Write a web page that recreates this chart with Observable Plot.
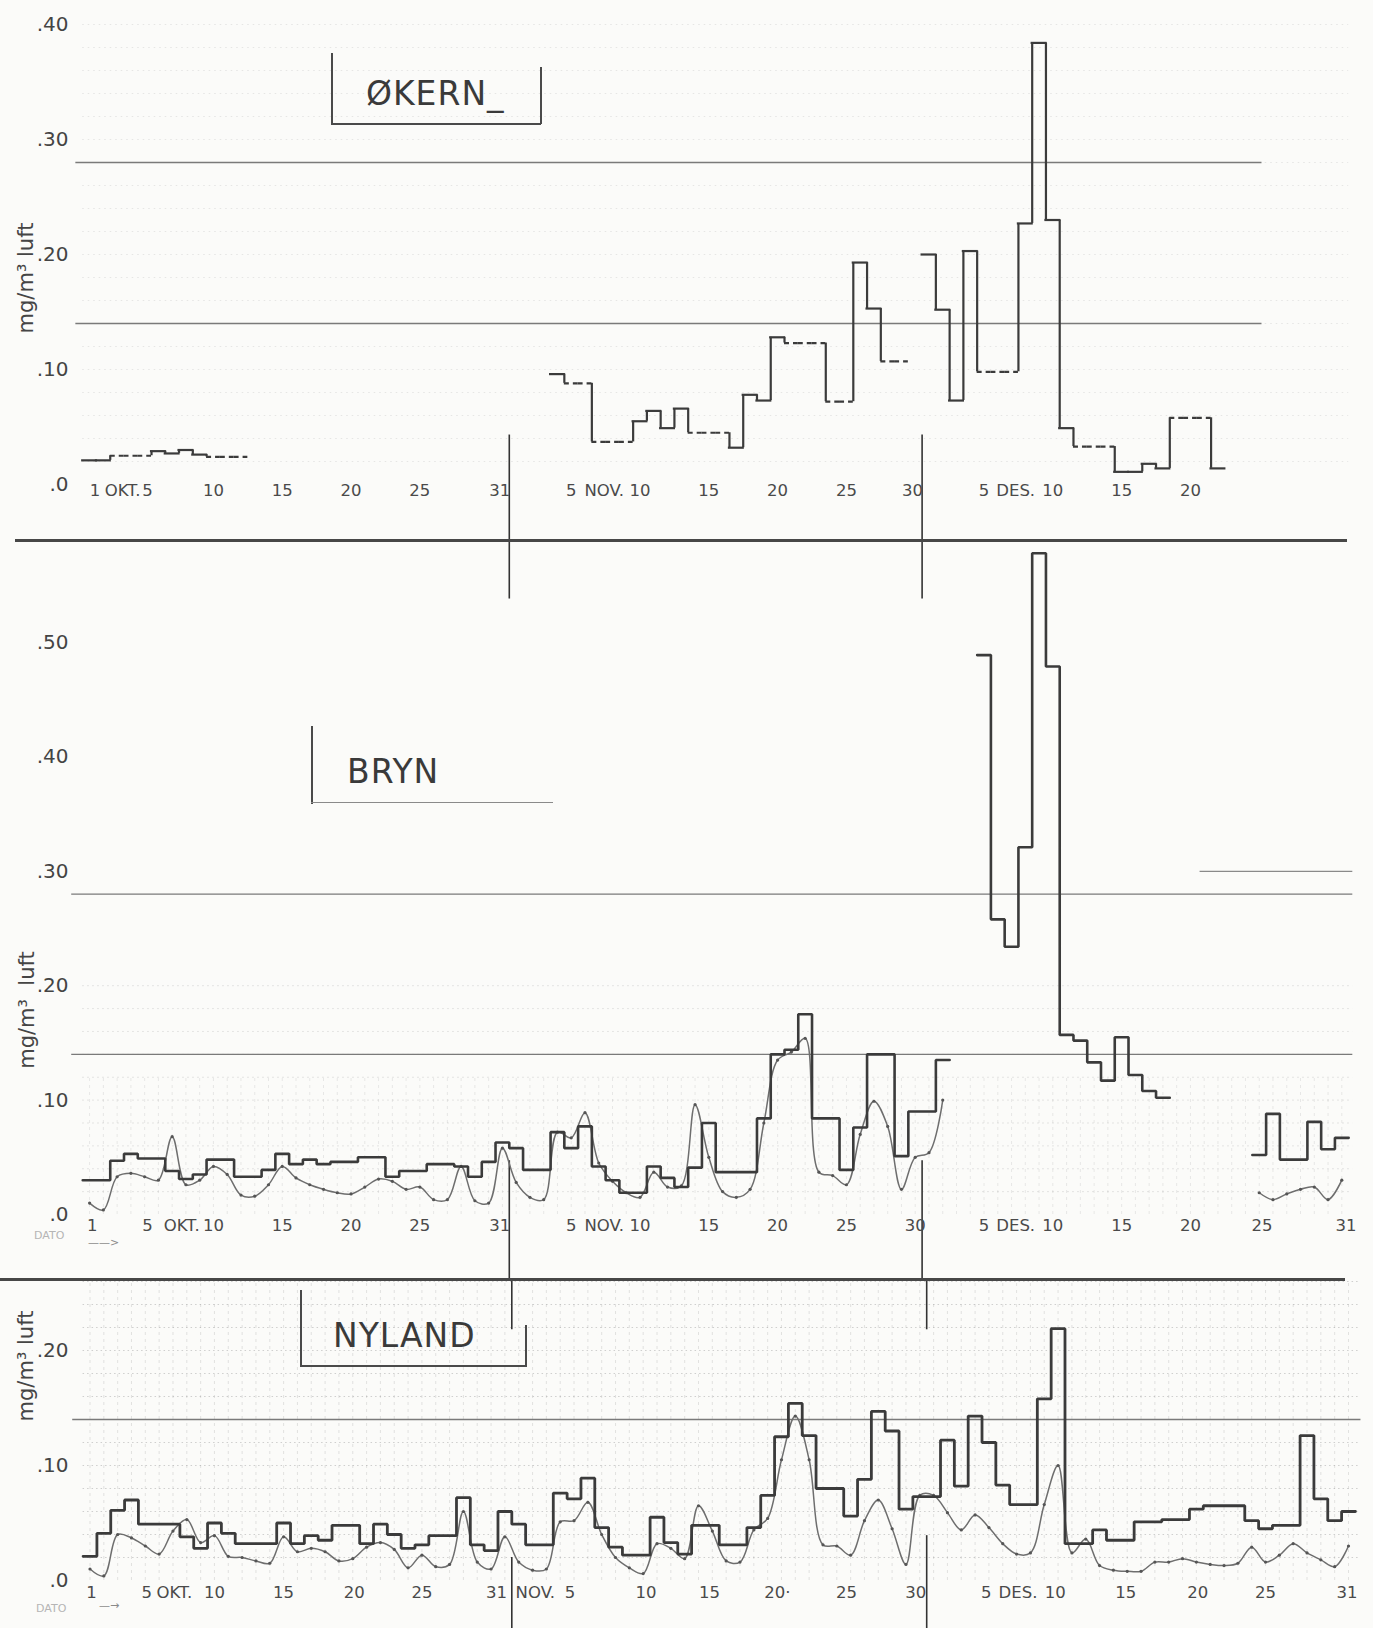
<!DOCTYPE html>
<html>
<head>
<meta charset="utf-8">
<script src="https://cdn.jsdelivr.net/npm/d3@7"></script>
<script src="https://cdn.jsdelivr.net/npm/@observablehq/plot@0.6"></script>
<style>
  html, body { margin: 0; padding: 0; background: #fbfbf9; }
  #page { position: relative; width: 1373px; height: 1628px; overflow: hidden; background: #fbfbf9;
          font-family: "DejaVu Sans", sans-serif; color: #3c3c3c; }
  .panel { position: absolute; left: 0; }
  .panel svg { display: block; }
  .sep { position: absolute; height: 3px; background: #474747; z-index: 5; }
  .ln { position: absolute; background: #4a4a4a; z-index: 4; }
  .ytitle { position: absolute; transform: translate(-50%, -50%) rotate(-90deg); white-space: nowrap;
            font-size: 21px; line-height: 21px; color: #454545; z-index: 4; }
  .station { position: absolute; font-size: 33px; line-height: 33px; letter-spacing: 1px; color: #3a3a3a; z-index: 4; }
  .faint { position: absolute; color: #b5b5b5; font-size: 11px; line-height: 11px; z-index: 4; white-space: nowrap; }
</style>
</head>
<body>
<div id="page"></div>
<script>
// ---------------- DATA (days 1..92 = 1 Oct .. 31 Dec) ----------------
const days = d3.range(1, 93);

// ØKERN daily values, mg/m3 (null = no measurement)
const okernValues = [
  0.021, 0.021, 0.025, 0.025, 0.025, 0.029, 0.027, 0.030, 0.026, 0.024,   // 1-10
  0.024, 0.024, null, null, null, null, null, null, null, null,           // 11-20
  null, null, null, null, null, null, null, null, null, null,             // 21-30
  null, null, null, null, 0.096, 0.088, 0.088, 0.037, 0.037, 0.037,       // 31-40
  0.055, 0.064, 0.049, 0.066, 0.045, 0.045, 0.045, 0.032, 0.078, 0.073,   // 41-50
  0.128, 0.123, 0.123, 0.123, 0.072, 0.072, 0.193, 0.153, 0.107, 0.107,   // 51-60
  null, 0.200, 0.152, 0.073, 0.203, 0.098, 0.098, 0.098, 0.227, 0.384,    // 61-70
  0.230, 0.049, 0.033, 0.033, 0.033, 0.011, 0.011, 0.018, 0.014, 0.058,   // 71-80
  0.058, 0.058, 0.014, null, null, null, null, null, null, null,          // 81-90
  null, null                                                              // 91-92
];
// days drawn with a dashed level in the ØKERN curve
const okernDashedDays = [3, 4, 5, 10, 11, 12, 36, 37, 38, 39, 40, 45, 46, 47, 52, 53, 54, 55, 56,
                         59, 60, 66, 67, 68, 73, 74, 75, 80, 81, 82];

// BRYN daily values (step curve)
const brynDaily = [
  0.030, 0.030, 0.047, 0.053, 0.049, 0.049, 0.038, 0.031, 0.035, 0.048,   // 1-10
  0.048, 0.033, 0.033, 0.039, 0.053, 0.044, 0.048, 0.044, 0.046, 0.046,   // 11-20
  0.050, 0.050, 0.033, 0.038, 0.038, 0.044, 0.044, 0.042, 0.033, 0.046,   // 21-30
  0.063, 0.058, 0.039, 0.039, 0.072, 0.058, 0.077, 0.042, 0.030, 0.019,   // 31-40
  0.019, 0.042, 0.032, 0.024, 0.041, 0.080, 0.037, 0.037, 0.037, 0.084,   // 41-50
  0.140, 0.144, 0.175, 0.084, 0.084, 0.039, 0.076, 0.140, 0.140, 0.051,   // 51-60
  0.090, 0.090, 0.135, null, null, 0.489, 0.258, 0.234, 0.321, 0.578,     // 61-70
  0.479, 0.157, 0.152, 0.133, 0.117, 0.155, 0.122, 0.108, 0.102, null,    // 71-80
  null, null, null, null, null, 0.052, 0.088, 0.048, 0.048, 0.081,        // 81-90
  0.057, 0.067                                                            // 91-92
];
// BRYN continuous record (thin smooth curve)
const brynSmooth = [
  0.010, 0.004, 0.033, 0.036, 0.033, 0.030, 0.068, 0.026, 0.030, 0.042,   // 1-10
  0.035, 0.017, 0.016, 0.026, 0.042, 0.032, 0.026, 0.022, 0.019, 0.018,   // 11-20
  0.024, 0.031, 0.029, 0.022, 0.024, 0.013, 0.013, 0.042, 0.012, 0.010,   // 21-30
  0.058, 0.028, 0.015, 0.013, 0.072, 0.067, 0.089, 0.045, 0.029, 0.019,   // 31-40
  0.015, 0.037, 0.024, 0.025, 0.096, 0.050, 0.020, 0.015, 0.022, 0.080,   // 41-50
  0.135, 0.142, 0.154, 0.037, 0.034, 0.026, 0.070, 0.099, 0.077, 0.022,   // 51-60
  0.050, 0.054, 0.100, null, null, null, null, null, null, null,          // 61-70
  null, null, null, null, null, null, null, null, null, null,             // 71-80
  null, null, null, null, null, 0.019, 0.013, 0.018, 0.022, 0.024,        // 81-90
  0.013, 0.030                                                            // 91-92
];

// NYLAND daily values (step curve)
const nylandDaily = [
  0.021, 0.041, 0.061, 0.070, 0.049, 0.049, 0.049, 0.038, 0.028, 0.050,   // 1-10
  0.041, 0.032, 0.032, 0.032, 0.050, 0.032, 0.039, 0.035, 0.048, 0.048,   // 11-20
  0.032, 0.049, 0.040, 0.028, 0.031, 0.039, 0.039, 0.072, 0.031, 0.026,   // 21-30
  0.060, 0.049, 0.031, 0.031, 0.076, 0.071, 0.089, 0.046, 0.029, 0.022,   // 31-40
  0.022, 0.055, 0.033, 0.023, 0.048, 0.048, 0.031, 0.031, 0.046, 0.074,   // 41-50
  0.125, 0.154, 0.126, 0.080, 0.080, 0.056, 0.088, 0.147, 0.130, 0.062,   // 51-60
  0.073, 0.073, 0.122, 0.082, 0.143, 0.120, 0.083, 0.066, 0.066, 0.158,   // 61-70
  0.219, 0.032, 0.032, 0.044, 0.035, 0.035, 0.051, 0.051, 0.053, 0.053,   // 71-80
  0.062, 0.065, 0.065, 0.065, 0.052, 0.045, 0.048, 0.048, 0.126, 0.071,   // 81-90
  0.052, 0.060                                                            // 91-92
];
// NYLAND continuous record (thin smooth curve)
const nylandSmooth = [
  0.010, 0.004, 0.040, 0.037, 0.030, 0.023, 0.043, 0.053, 0.033, 0.039,   // 1-10
  0.021, 0.020, 0.017, 0.015, 0.038, 0.025, 0.028, 0.025, 0.017, 0.019,   // 11-20
  0.029, 0.033, 0.027, 0.011, 0.022, 0.012, 0.014, 0.060, 0.016, 0.010,   // 21-30
  0.038, 0.016, 0.009, 0.010, 0.051, 0.052, 0.068, 0.040, 0.020, 0.011,   // 31-40
  0.006, 0.032, 0.028, 0.019, 0.065, 0.043, 0.017, 0.016, 0.044, 0.054,   // 41-50
  0.105, 0.143, 0.105, 0.031, 0.030, 0.022, 0.052, 0.070, 0.045, 0.014,   // 51-60
  0.074, 0.074, 0.059, 0.044, 0.057, 0.046, 0.032, 0.023, 0.024, 0.066,   // 61-70
  0.100, 0.024, 0.036, 0.013, 0.009, 0.008, 0.008, 0.016, 0.016, 0.019,   // 71-80
  0.016, 0.014, 0.013, 0.015, 0.029, 0.016, 0.022, 0.032, 0.024, 0.018,   // 81-90
  0.012, 0.030                                                            // 91-92
];

// reference (limit) levels drawn across the panels
const limitLines = [0.14, 0.28];
// month boundaries (between 31 Oct / 1 Nov and 30 Nov / 1 Dec)
const monthBreaks = [31.5, 61.5];

// tick labels
const okernTickDays   = [1.4, 3.4, 5.2, 10, 15, 20, 25, 30.8, 36, 38.4, 41, 46, 51, 56, 60.8, 66, 68.3, 71, 76, 81];
const okernTickLabels = ["1", "OKT.", "5", "10", "15", "20", "25", "31", "5", "NOV.", "10", "15", "20", "25", "30", "5", "DES.", "10", "15", "20"];
const brynTickDays    = [1.2, 5.2, 7.7, 10, 15, 20, 25, 30.8, 36, 38.4, 41, 46, 51, 56, 61, 66, 68.3, 71, 76, 81, 86.2, 92.3];
const brynTickLabels  = ["1", "5", "OKT.", "10", "15", "20", "25", "31", "5", "NOV.", "10", "15", "20", "25", "30", "5", "DES.", "10", "15", "20", "25", "31"];
const nylandTickDays  = [1.1, 5.1, 7.1, 10, 15, 20.1, 25, 30.4, 33.2, 35.7, 41.2, 45.8, 50.7, 55.7, 60.7, 65.8, 68.1, 70.8, 75.9, 81.1, 86, 91.9];
const nylandTickLabels= ["1", "5", "OKT.", "10", "15", "20", "25", "31", "NOV.", "5", "10", "15", "20·", "25", "30", "5", "DES.", "10", "15", "20", "25", "31"];
const okernYTicks  = [0, 0.1, 0.2, 0.3, 0.4];
const brynYTicks   = [0, 0.1, 0.2, 0.3, 0.4, 0.5];
const nylandYTicks = [0, 0.1, 0.2];

// ---------------- helpers ----------------
const INK = "#3b3b3b", THIN = "#6e6e6e", LIMIT = "#7a7a7a", LABEL = "#4a4a4a";
const fmtY = v => v === 0 ? ".0" : d3.format(".2f")(v).replace(/^0/, "");
const rowsOf = vals => days.map((d, i) => ({day: d, v: vals[i]}));
function stepPoints(vals) {
  const out = [];
  vals.forEach((v, i) => {
    const d = i + 1;
    if (v == null) out.push({x: d, y: null});
    else out.push({x: d - 0.5, y: v}, {x: d + 0.5, y: v});
  });
  return out;
}
function risers(vals) {
  const out = [];
  for (let i = 0; i < vals.length - 1; i++)
    if (vals[i] != null && vals[i + 1] != null) out.push({x: i + 1.5, y1: vals[i], y2: vals[i + 1]});
  return out;
}
const tickRows = (ds, ls) => ds.map((d, i) => ({day: d, label: ls[i]}));

function panel({height, yDomain, yRange, xRange, marks}) {
  return Plot.plot({
    width: 1373, height,
    marginLeft: 71, marginRight: 0, marginTop: 0, marginBottom: height - yRange[0],
    x: {domain: [1, 92], range: xRange, axis: null},
    y: {domain: yDomain, range: yRange, axis: null},
    style: {background: "transparent", fontFamily: "DejaVu Sans, sans-serif", overflow: "hidden"},
    marks
  });
}
const xLabels = (ds, ls, dy) => Plot.text(tickRows(ds, ls), {x: "day", text: "label", frameAnchor: "bottom",
  lineAnchor: "middle", dy, fontSize: 16.5, fill: LABEL});
const yLabels = ticks => Plot.text(ticks, {y: d => d, text: fmtY, frameAnchor: "left", textAnchor: "end",
  dx: -3, fontSize: 20, fill: "#444"});

const page = document.getElementById("page");
function place(svg, top) {
  const div = document.createElement("div");
  div.className = "panel"; div.style.top = top + "px";
  div.appendChild(svg); page.appendChild(div);
}

// ---------------- ØKERN ----------------
const okRows = rowsOf(okernValues).filter(r => r.v != null);
const okSolid = okRows.filter(r => !okernDashedDays.includes(r.day));
const okDashed = okRows.filter(r => okernDashedDays.includes(r.day));
place(panel({
  height: 540, yDomain: [0, 0.4], yRange: [484, 24], xRange: [89.1, 1341.3],
  marks: [
    Plot.ruleY(d3.range(0.02, 0.41, 0.02), {x1: 0.5, x2: 92.5, stroke: "#999", strokeOpacity: 0.22, strokeDasharray: "1.5,4"}),
    Plot.ruleY(limitLines, {y: d => d, x1: 0, x2: 86.2, stroke: LIMIT, strokeWidth: 1.3}),
    Plot.ruleX(monthBreaks, {x: d => d, y1: 0.043, y2: -0.06, stroke: "#333", strokeWidth: 1.6}),
    Plot.ruleX(risers(okernValues), {x: "x", y1: "y1", y2: "y2", stroke: INK, strokeWidth: 2.2}),
    Plot.ruleY(okSolid, {y: "v", x1: d => d.day - 0.5, x2: d => d.day + 0.5, stroke: INK, strokeWidth: 2.2, strokeLinecap: "square"}),
    Plot.ruleY(okDashed, {y: "v", x1: d => d.day - 0.5, x2: d => d.day + 0.5, stroke: INK, strokeWidth: 2.2, strokeDasharray: "5,4"}),
    xLabels(okernTickDays, okernTickLabels, 6),
    yLabels(okernYTicks)
  ]
}), 0);

// ---------------- BRYN ----------------
place(panel({
  height: 739, yDomain: [0, 0.5], yRange: [674, 102], xRange: [89.1, 1341.3],
  marks: [
    Plot.ruleY(d3.range(0.02, 0.21, 0.02), {x1: 0.5, x2: 92.8, stroke: "#999", strokeOpacity: 0.3, strokeDasharray: "1.5,3.5"}),
    Plot.ruleX(d3.range(1, 93), {y1: 0, y2: 0.12, stroke: "#999", strokeOpacity: 0.2, strokeDasharray: "3,4"}),
    Plot.ruleY(limitLines, {y: d => d, x1: -0.3, x2: 92.8, stroke: LIMIT, strokeWidth: 1.3}),
    Plot.ruleY([0.30], {y: d => d, x1: 81.7, x2: 92.8, stroke: "#8a8a8a", strokeWidth: 1.2}),
    Plot.ruleX(monthBreaks, {x: d => d, y1: 0.62, y2: 0.538, stroke: "#333", strokeWidth: 1.6}),
    Plot.ruleX(monthBreaks, {x: d => d, y1: 0.047, y2: -0.07, stroke: "#333", strokeWidth: 1.6}),
    Plot.line(rowsOf(brynSmooth), {x: "day", y: "v", curve: "catmull-rom", stroke: THIN, strokeWidth: 1.5}),
    Plot.dot(rowsOf(brynSmooth).filter(r => r.v != null), {x: "day", y: "v", r: 1.6, fill: "#555"}),
    Plot.line(stepPoints(brynDaily), {x: "x", y: "y", stroke: INK, strokeWidth: 2.6, strokeLinejoin: "miter"}),
    xLabels(brynTickDays, brynTickLabels, 11.5),
    yLabels(brynYTicks)
  ]
}), 540);

// ---------------- NYLAND ----------------
place(panel({
  height: 349, yDomain: [0, 0.2], yRange: [301, 71], xRange: [89.5, 1348],
  marks: [
    Plot.ruleY(d3.range(0.02, 0.27, 0.02), {x1: 0.5, x2: 92.9, stroke: "#888", strokeOpacity: 0.38, strokeDasharray: "1.5,3"}),
    Plot.ruleX(d3.range(1, 93), {y1: 0, y2: 0.26, stroke: "#999", strokeOpacity: 0.25, strokeDasharray: "3,4"}),
    Plot.ruleY([0.14], {y: d => d, x1: -0.25, x2: 92.9, stroke: LIMIT, strokeWidth: 1.3}),
    Plot.ruleX(monthBreaks, {x: d => d, y1: 0.3, y2: 0.218, stroke: "#333", strokeWidth: 1.6}),
    Plot.ruleX(monthBreaks, {x: d => d, y1: d => d < 40 ? 0.020 : 0.039, y2: -0.06, stroke: "#333", strokeWidth: 1.6}),
    Plot.line(rowsOf(nylandSmooth), {x: "day", y: "v", curve: "catmull-rom", stroke: THIN, strokeWidth: 1.5}),
    Plot.dot(rowsOf(nylandSmooth), {x: "day", y: "v", r: 1.6, fill: "#555"}),
    Plot.line(stepPoints(nylandDaily), {x: "x", y: "y", stroke: INK, strokeWidth: 2.8, strokeLinejoin: "miter"}),
    xLabels(nylandTickDays, nylandTickLabels, 12.7),
    yLabels(nylandYTicks)
  ]
}), 1279);

// ---------------- annotations (HTML overlay) ----------------
function el(cls, style, html) {
  const d = document.createElement("div");
  d.className = cls; Object.assign(d.style, style);
  if (html != null) d.innerHTML = html;
  page.appendChild(d); return d;
}
// panel separators
el("sep", {left: "15px", top: "539px", width: "1332px"});
el("sep", {left: "0px", top: "1278px", width: "1345px"});
// axis titles
el("ytitle", {left: "26px", top: "278px"}, "mg/m³ luft");
el("ytitle", {left: "27px", top: "1010px"}, "mg/m³&nbsp;&nbsp;luft");
el("ytitle", {left: "26px", top: "1366px"}, "mg/m³ luft");
// station labels with their frames
el("station", {left: "366px", top: "77px"}, "ØKERN_");
el("ln", {left: "331px", top: "53px", width: "1.5px", height: "71px"});
el("ln", {left: "331px", top: "123px", width: "210px", height: "1.5px"});
el("ln", {left: "540px", top: "67px", width: "1.5px", height: "57px"});
el("station", {left: "347px", top: "755px"}, "BRYN");
el("ln", {left: "311px", top: "726px", width: "1.5px", height: "78px"});
el("ln", {left: "311px", top: "802px", width: "242px", height: "1.2px", background: "#8a8a8a"});
el("station", {left: "333px", top: "1319px"}, "NYLAND");
el("ln", {left: "300px", top: "1290px", width: "1.5px", height: "76px"});
el("ln", {left: "300px", top: "1365px", width: "226px", height: "1.5px"});
el("ln", {left: "525px", top: "1325px", width: "1.5px", height: "42px"});
// "DATO" with arrow
el("faint", {left: "34px", top: "1230px"}, "DATO");
el("faint", {left: "88px", top: "1237px", color: "#8a8a8a", fontSize: "11px"}, "——&gt;");
el("faint", {left: "36px", top: "1603px"}, "DATO");
el("faint", {left: "99px", top: "1600px", color: "#8a8a8a", fontSize: "11px"}, "—→");
</script>
</body>
</html>
